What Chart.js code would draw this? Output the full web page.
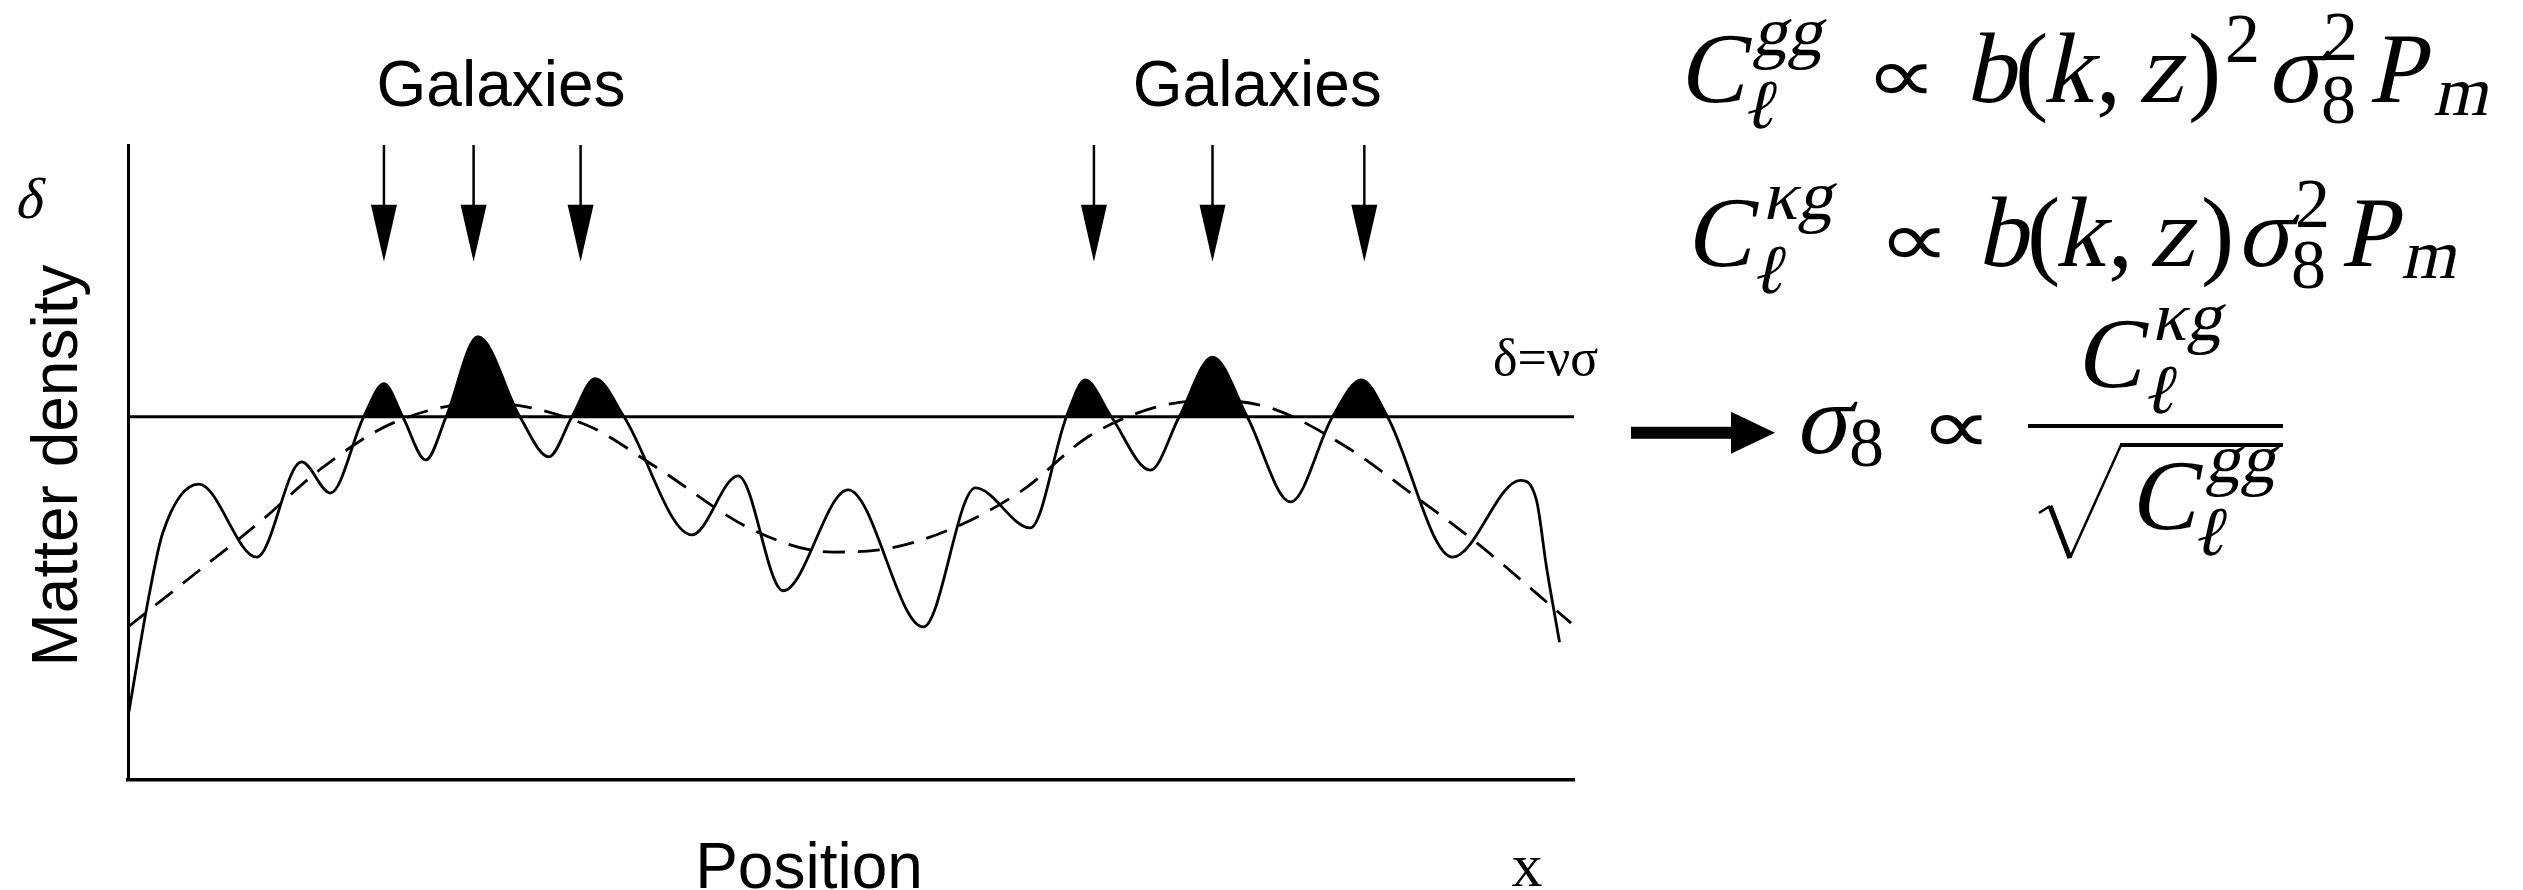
<!DOCTYPE html>
<html>
<head>
<meta charset="utf-8">
<script src="https://cdn.jsdelivr.net/npm/chart.js"></script>
<style>
  html, body { margin: 0; padding: 0; background: #fff; }
  #wrap { position: relative; width: 2523px; height: 890px; overflow: hidden; }
</style>
</head>
<body>
<div id="wrap"><canvas id="density" width="2523" height="890"></canvas></div>
<script>
// density field along a 1-d slice (position and density in arbitrary units, 0..100)
const position = [0, 1.4, 2.4, 4.9, 8.9, 12.0, 14.0, 16.3, 17.7, 19.0, 20.6, 22.0, 24.2, 27.1, 29.1,
  30.7, 32.3, 34.3, 39.0, 42.2, 45.3, 49.8, 55.0, 58.6, 62.4, 64.9, 66.2, 68.0, 70.7, 72.7,
  75.0, 77.4, 80.4, 83.3, 85.3, 87.1, 91.6, 96.3, 97.4, 98.1, 99.0];
const density = [9.9, 28.4, 38.9, 46.6, 35.1, 50.1, 45.2, 57.2, 62.4, 57.2, 50.4, 57.2, 69.8, 57.2, 50.9,
  57.2, 63.2, 57.2, 38.6, 47.9, 29.8, 45.7, 24.1, 46.0, 39.7, 57.2, 63.0, 57.2, 48.8, 57.2,
  66.6, 57.2, 43.8, 57.2, 63.0, 57.2, 35.1, 47.2, 44.1, 33.5, 21.7];

// long-wavelength mode (dashed)
const trendX = [0, 4.7, 9.1, 13.4, 18.3, 24.7, 31.7, 36.5, 43.2, 48.7, 51.8, 56.8, 61.9, 66.3,
  70.9, 74.8, 79.0, 84.3, 88.7, 93.3, 99.8];
const trend = [24.1, 32.6, 40.6, 49.1, 56.2, 59.4, 55.9, 49.3, 39.4, 35.9, 36.2, 39.4, 45.7, 53.9,
  58.6, 59.8, 58.6, 52.4, 45.2, 37.3, 24.7];

// collapse threshold delta = nu * sigma
const threshold = 57.2;

// galaxies form where the field exceeds the threshold
const galaxyX = [17.7, 23.9, 31.3, 66.8, 75.0, 85.5];
const galaxyTip = 81.6;
const groupLabelX = [25.8, 78.1];

const sans = '"Liberation Sans", Arial, sans-serif';
const serif = '"Liberation Serif", "Times New Roman", serif';
const M = 100, S = 70;
const PROP = '\u221D';

// [text, dx, dy, size, italic]
const eqGG = [
  ['C', 0, 0, M, 1], ['gg', 74, -47, S, 1], ['\u2113', 63, 26, S, 1],
  [PROP, 187, 0, M, 0], ['b', 287, 0, M, 1], ['(', 337, 0, M, 0], ['k', 365, 0, M, 1],
  [',', 418, 0, M, 0], ['z', 460, 0, M, 1], [')', 510, 0, M, 0], ['2', 547, -40, S, 0],
  ['\u03C3', 588, 0, M, 1], ['2', 645, -42, S, 0], ['8', 643, 21, S, 0],
  ['P', 690, 0, M, 1], ['m', 755, 13, S, 1]
];
const eqKG = [
  ['C', 0, 0, M, 1], ['\u03BAg', 77, -47, S, 1], ['\u2113', 65, 27, S, 1],
  [PROP, 193, 0, M, 0], ['b', 292, 0, M, 1], ['(', 342, 0, M, 0], ['k', 370, 0, M, 1],
  [',', 423, 0, M, 0], ['z', 464, 0, M, 1], [')', 516, 0, M, 0],
  ['\u03C3', 551, 0, M, 1], ['2', 610, -39, S, 0], ['8', 606, 22, S, 0],
  ['P', 655, 0, M, 1], ['m', 716, 12, S, 1]
];
const eqSigma = [
  ['\u03C3', 0, 0, M, 1], ['8', 55, 13, S, 0], [PROP, 126, 0, M, 0],
  ['C', 281, -66, M, 1], ['\u03BAg', 357, -113, S, 1], ['\u2113', 347, -40, S, 1],
  ['C', 335, 76, M, 1], ['gg', 411, 29, S, 1], ['\u2113', 397, 102, S, 1]
];

function put(ctx, str, x, y, font, align) {
  ctx.font = font;
  ctx.textAlign = align || 'left';
  ctx.textBaseline = 'alphabetic';
  ctx.fillText(str, x, y);
}

// slanted roman stands in for math italic
function putSlant(ctx, str, x, y, font, align) {
  ctx.save();
  ctx.translate(x, y);
  ctx.transform(1, 0, -0.22, 1, 0, 0);
  put(ctx, str, 0, 0, font, align);
  ctx.restore();
}

function runs(ctx, list, ox, oy) {
  for (const [s, dx, dy, size, it] of list) {
    if (s === PROP) {
      // wide, light proportional-to sign
      ctx.save();
      ctx.translate(ox + dx, oy + dy);
      ctx.scale(1.3, 1);
      put(ctx, s, 0, 0, (size * 0.78) + 'px "DejaVu Sans", sans-serif');
      ctx.restore();
    } else if (it) {
      putSlant(ctx, s, ox + dx, oy + dy, size + 'px ' + serif);
    } else {
      put(ctx, s, ox + dx, oy + dy, size + 'px ' + serif);
    }
  }
}

const sketchLabels = {
  id: 'sketchLabels',
  afterDraw(chart) {
    const { ctx, chartArea: ca, scales: { x, y } } = chart;
    ctx.save();
    ctx.fillStyle = '#000';
    ctx.strokeStyle = '#000';

    // galaxy arrows
    const top = y.getPixelForValue(100);
    const tip = y.getPixelForValue(galaxyTip);
    galaxyX.forEach(g => {
      const px = x.getPixelForValue(g);
      ctx.lineWidth = 2.5;
      ctx.beginPath();
      ctx.moveTo(px, top);
      ctx.lineTo(px, tip - 50);
      ctx.stroke();
      ctx.beginPath();
      ctx.moveTo(px - 13, tip - 57);
      ctx.lineTo(px + 13, tip - 57);
      ctx.lineTo(px, tip);
      ctx.closePath();
      ctx.fill();
    });
    groupLabelX.forEach(g => put(ctx, 'Galaxies', x.getPixelForValue(g), ca.top - 39, '64px ' + sans, 'center'));

    // axis labels
    putSlant(ctx, '\u03B4', ca.left - 100, ca.top + 73, '58px ' + serif, 'center');
    ctx.save();
    ctx.translate(ca.left - 51, (ca.top + ca.bottom) / 2 + 3);
    ctx.rotate(-Math.PI / 2);
    put(ctx, 'Matter density', 0, 0, '64px ' + sans, 'center');
    ctx.restore();
    put(ctx, 'Position', ca.left + 681, ca.bottom + 108, '64px ' + sans, 'center');
    put(ctx, 'x', ca.right - 47, ca.bottom + 106, '62px ' + serif, 'center');

    const ty = y.getPixelForValue(threshold);
    put(ctx, '\u03B4=\u03BD\u03C3', ca.right - 81, ty - 42, '52px ' + serif);

    // thick arrow to the estimator
    const ay = ty + 16;
    ctx.fillRect(ca.right + 57, ay - 6, 102, 12);
    ctx.beginPath();
    ctx.moveTo(ca.right + 157, ay - 21);
    ctx.lineTo(ca.right + 201, ay);
    ctx.lineTo(ca.right + 157, ay + 21);
    ctx.closePath();
    ctx.fill();

    // spectra relations
    runs(ctx, eqGG, 1678, 102);
    runs(ctx, eqKG, 1685, 266);
    const ox = 1794, oy = 453;
    runs(ctx, eqSigma, ox, oy);
    ctx.lineWidth = 4;
    ctx.beginPath();
    ctx.moveTo(ox + 234, oy - 27);
    ctx.lineTo(ox + 489, oy - 27);
    ctx.stroke();
    // radical sign
    ctx.lineWidth = 2.5;
    ctx.beginPath();
    ctx.moveTo(ox + 245, oy + 60);
    ctx.lineTo(ox + 256, oy + 53);
    ctx.stroke();
    ctx.lineWidth = 5;
    ctx.beginPath();
    ctx.moveTo(ox + 256, oy + 53);
    ctx.lineTo(ox + 276, oy + 105);
    ctx.stroke();
    ctx.lineWidth = 2.5;
    ctx.beginPath();
    ctx.moveTo(ox + 276, oy + 105);
    ctx.lineTo(ox + 327, oy - 8);
    ctx.stroke();
    ctx.lineWidth = 4;
    ctx.beginPath();
    ctx.moveTo(ox + 326, oy - 8);
    ctx.lineTo(ox + 489, oy - 8);
    ctx.stroke();
    ctx.restore();
  }
};

const pts = (xs, ys) => xs.map((v, i) => ({ x: v, y: ys[i] }));

new Chart(document.getElementById('density'), {
  type: 'line',
  data: {
    datasets: [
      {
        label: 'density',
        data: pts(position, density),
        borderColor: '#000',
        borderWidth: 2.8,
        cubicInterpolationMode: 'monotone',
        pointRadius: 0,
        fill: { target: { value: threshold }, above: '#000', below: 'rgba(0,0,0,0)' }
      },
      {
        label: 'smoothed',
        data: pts(trendX, trend),
        borderColor: '#000',
        borderWidth: 2.8,
        borderDash: [22, 13],
        cubicInterpolationMode: 'monotone',
        pointRadius: 0,
        fill: false
      },
      {
        label: 'threshold',
        data: [{ x: 0, y: threshold }, { x: 100, y: threshold }],
        borderColor: '#000',
        borderWidth: 3,
        pointRadius: 0,
        fill: false
      }
    ]
  },
  options: {
    responsive: false,
    animation: false,
    events: [],
    layout: { padding: { left: 128, top: 145, right: 949, bottom: 110 } },
    plugins: { legend: { display: false }, tooltip: { enabled: false } },
    scales: {
      x: {
        type: 'linear', min: 0, max: 100,
        grid: { display: false, drawTicks: false },
        ticks: { display: false },
        border: { display: true, color: '#000', width: 3.5 }
      },
      y: {
        type: 'linear', min: 0, max: 100,
        grid: { display: false, drawTicks: false },
        ticks: { display: false },
        border: { display: true, color: '#000', width: 3 }
      }
    }
  },
  plugins: [sketchLabels]
});
</script>
</body>
</html>
